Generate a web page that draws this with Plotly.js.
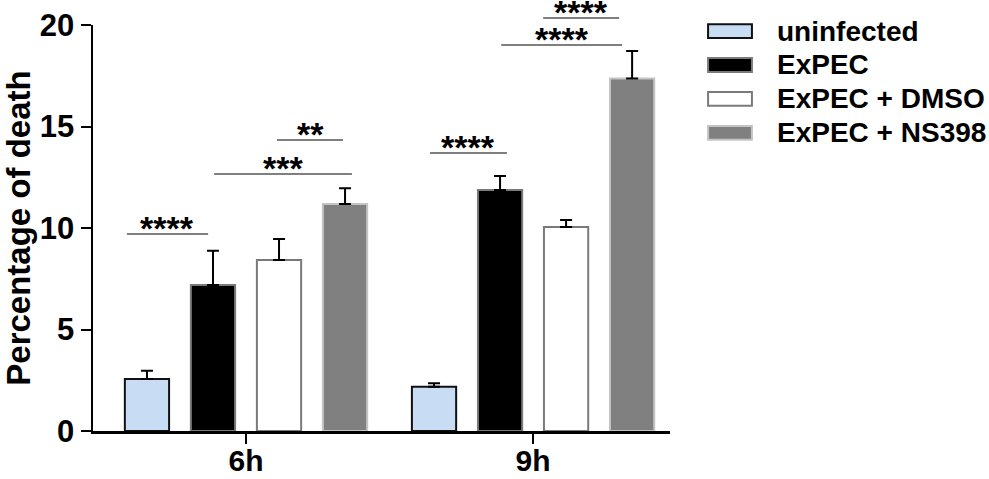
<!DOCTYPE html>
<html>
<head>
<meta charset="utf-8">
<script src="https://cdn.plot.ly/plotly-3.0.1.min.js"></script>
<style>
  html, body { margin: 0; padding: 0; background: #fff; }
  #chart { width: 989px; height: 479px; }
</style>
</head>
<body>
<div id="chart"></div>
<script>
const timepoints = ["6h", "9h"];
const groupNames = ["uninfected", "ExPEC", "ExPEC + DMSO", "ExPEC + NS398"];
const uninfected = [2.56, 2.18];
const expec = [7.19, 11.87];
const expecDmso = [8.42, 10.05];
const expecNs398 = [11.18, 17.37];
const uninfectedErr = [0.41, 0.17];
const expecErr = [1.69, 0.69];
const expecDmsoErr = [1.04, 0.34];
const expecNs398Err = [0.78, 1.35];

// significance brackets (x in category units, y in data units)
const sigLabels = ["****", "***", "**", "****", "****", "****"];
const sigX0 = [-0.415, -0.111, 0.108, 0.641, 0.889, 1.035];
const sigX1 = [-0.132, 0.369, 0.338, 0.909, 1.310, 1.300];
const sigY = [9.70, 12.66, 14.33, 13.69, 19.01, 20.34];

const yMax = 20;
const fontFamily = "Liberation Sans, Arial, Helvetica, sans-serif";

const seriesValues = [uninfected, expec, expecDmso, expecNs398];
const seriesErr = [uninfectedErr, expecErr, expecDmsoErr, expecNs398Err];
const fills = ["#c8ddf4", "#000000", "#ffffff", "#808080"];
const outlines = ["#111111", "#7a7a7a", "#7a7a7a", "#c4c4c4"];

const traces = seriesValues.map((vals, i) => ({
  type: "bar",
  name: groupNames[i],
  x: timepoints,
  y: vals,
  marker: { color: fills[i], line: { color: outlines[i], width: 2 } },
  error_y: {
    type: "data",
    symmetric: false,
    array: seriesErr[i],
    arrayminus: vals.map(() => 0),
    color: "#000",
    thickness: 2,
    width: 6,
  },
  showlegend: false,
  hoverinfo: "skip",
}));

const shapes = [];
const annotations = [];

sigLabels.forEach((lab, i) => {
  shapes.push({
    type: "line",
    xref: "x",
    yref: "paper",
    x0: sigX0[i],
    x1: sigX1[i],
    y0: sigY[i] / yMax,
    y1: sigY[i] / yMax,
    line: { color: "#555", width: 1.5 },
  });
  annotations.push({
    xref: "x",
    yref: "paper",
    x: (sigX0[i] + sigX1[i]) / 2,
    y: sigY[i] / yMax,
    yanchor: "bottom",
    yshift: -15,
    text: lab,
    showarrow: false,
    font: { family: fontFamily, size: 34, color: "#000", weight: "bold" },
  });
});

// hand-made legend with wide swatches
const legX0 = 1.066, legX1 = 1.142, legTextX = 1.182;
const legTop = 0.985, legStep = 0.0835, swatchH = 0.034;
groupNames.forEach((name, i) => {
  const yc = legTop - i * legStep;
  shapes.push({
    type: "rect",
    xref: "paper",
    yref: "paper",
    x0: legX0,
    x1: legX1,
    y0: yc - swatchH / 2,
    y1: yc + swatchH / 2,
    fillcolor: fills[i],
    line: { color: outlines[i], width: 2 },
  });
  annotations.push({
    xref: "paper",
    yref: "paper",
    x: legTextX,
    y: yc,
    xanchor: "left",
    yanchor: "middle",
    text: name,
    showarrow: false,
    font: { family: fontFamily, size: 28, color: "#000", weight: "bold" },
  });
});

const layout = {
  width: 989,
  height: 479,
  margin: { l: 93, r: 319, t: 25, b: 48 },
  paper_bgcolor: "#fff",
  plot_bgcolor: "#fff",
  barmode: "group",
  bargap: 0.08,
  bargroupgap: 0.33,
  showlegend: false,
  xaxis: {
    type: "category",
    range: [-0.533, 1.477],
    showline: true,
    linecolor: "#000",
    linewidth: 2.5,
    ticks: "outside",
    ticklen: 10,
    tickwidth: 2,
    tickcolor: "#000",
    ticklabelstandoff: -9,
    showgrid: false,
    zeroline: false,
    tickfont: { family: fontFamily, size: 30, color: "#000", weight: "bold" },
  },
  yaxis: {
    range: [0, yMax],
    tickvals: [0, 5, 10, 15, 20],
    showline: true,
    linecolor: "#000",
    linewidth: 2.5,
    ticks: "outside",
    ticklen: 10,
    tickwidth: 2,
    tickcolor: "#000",
    showgrid: false,
    zeroline: false,
    tickfont: { family: fontFamily, size: 31, color: "#000", weight: "bold" },
    title: {
      text: "Percentage of death",
      standoff: 10,
      font: { family: fontFamily, size: 33, color: "#000", weight: "bold" },
    },
  },
  shapes: shapes,
  annotations: annotations,
};

Plotly.newPlot("chart", traces, layout, { displayModeBar: false, staticPlot: true });
</script>
</body>
</html>
